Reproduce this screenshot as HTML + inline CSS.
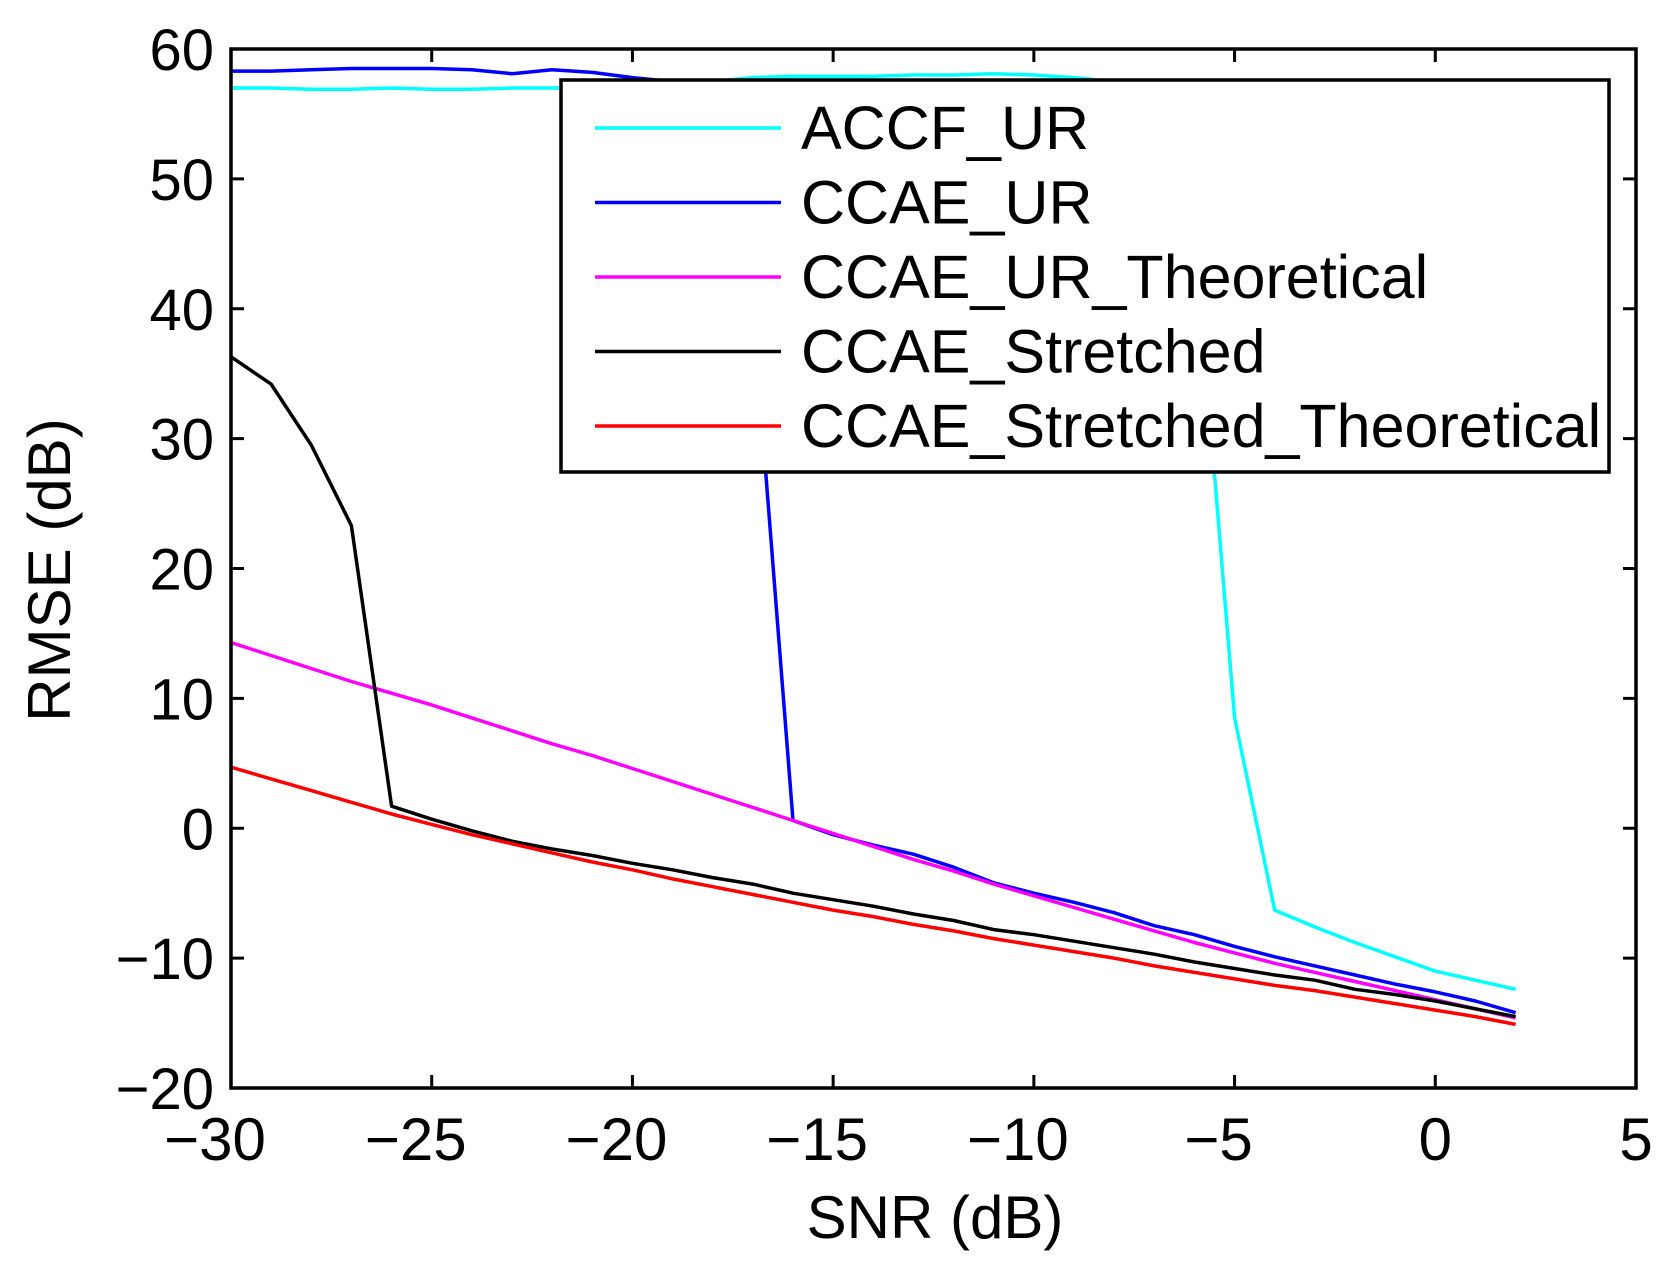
<!DOCTYPE html>
<html><head><meta charset="utf-8"><style>
html,body{margin:0;padding:0;background:#fff;}
svg{display:block;font-family:"Liberation Sans",Arial,sans-serif;}
</style></head><body>
<svg id="chart" width="1666" height="1263" viewBox="0 0 1666 1263" xmlns="http://www.w3.org/2000/svg">
<g id="series"></g>
<g id="axes"></g>
<g id="legend"></g>
</svg>
<script>
const snr = [-30,-29,-28,-27,-26,-25,-24,-23,-22,-21,-20,-19,-18,-17,-16,-15,-14,-13,-12,-11,-10,-9,-8,-7,-6,-5,-4,-3,-2,-1,0,1,2];
const accfUR = [57,57,56.9,56.9,57,56.9,56.9,57,57,57,57,57.3,57.5,57.8,57.9,57.9,57.9,58,58,58.1,58,57.8,57.5,57,46,8.5,-6.3,-7.6,-8.8,-9.9,-11,-11.7,-12.4];
const ccaeUR = [58.3,58.3,58.4,58.5,58.5,58.5,58.4,58.1,58.4,58.2,57.8,57.5,57.3,40,0.6,-0.5,-1.3,-2.0,-3.0,-4.2,-5.0,-5.7,-6.5,-7.5,-8.2,-9.1,-9.9,-10.6,-11.3,-12.0,-12.6,-13.3,-14.2];
const ccaeURTheo = [14.3,13.3,12.3,11.3,10.4,9.5,8.5,7.5,6.5,5.6,4.6,3.6,2.6,1.6,0.6,-0.4,-1.4,-2.4,-3.3,-4.3,-5.2,-6.1,-7.0,-7.9,-8.8,-9.6,-10.4,-11.1,-11.8,-12.5,-13.2,-13.9,-14.6];
const ccaeStr = [36.3,34.2,29.5,23.3,1.7,0.7,-0.2,-1.0,-1.6,-2.1,-2.7,-3.2,-3.8,-4.3,-5.0,-5.5,-6.0,-6.6,-7.1,-7.8,-8.2,-8.7,-9.2,-9.7,-10.3,-10.8,-11.3,-11.7,-12.4,-12.8,-13.3,-13.9,-14.5];
const ccaeStrTheo = [4.7,3.8,2.9,2.0,1.1,0.3,-0.5,-1.2,-1.9,-2.6,-3.2,-3.9,-4.5,-5.1,-5.7,-6.3,-6.8,-7.4,-7.9,-8.5,-9.0,-9.5,-10.0,-10.6,-11.1,-11.6,-12.1,-12.5,-13.0,-13.5,-14.0,-14.5,-15.1];
const xTicks = [-30,-25,-20,-15,-10,-5,0,5];
const yTicks = [-20,-10,0,10,20,30,40,50,60];
const seriesNames = ["ACCF_UR","CCAE_UR","CCAE_UR_Theoretical","CCAE_Stretched","CCAE_Stretched_Theoretical"];
const seriesColors = ["#00ffff","#0000ff","#ff00ff","#000000","#ff0000"];
const seriesData = [accfUR, ccaeUR, ccaeURTheo, ccaeStr, ccaeStrTheo];

const L=231,R=1636,T=49,B=1088,xMin=-30,xMax=5,yMin=-20,yMax=60;
const sx=v=>L+(v-xMin)/(xMax-xMin)*(R-L);
const sy=v=>B-(v-yMin)/(yMax-yMin)*(B-T);
const NS="http://www.w3.org/2000/svg";
function mk(tag,attrs,parent){const e=document.createElementNS(NS,tag);for(const k in attrs)e.setAttribute(k,attrs[k]);parent.appendChild(e);return e;}
const gS=document.getElementById('series'),gA=document.getElementById('axes'),gL=document.getElementById('legend');

seriesData.forEach((d,i)=>{
  const p=mk('polyline',{points:d.map((v,j)=>sx(snr[j]).toFixed(1)+','+sy(v).toFixed(1)).join(' '),fill:'none',stroke:seriesColors[i],'stroke-width':3.5,'stroke-linejoin':'round'},gS);
  
  
});

const box=mk('rect',{x:L,y:T,width:R-L,height:B-T,fill:'none',stroke:'#000','stroke-width':3.5},gA);


xTicks.forEach(t=>{
  const x=sx(t);
  mk('line',{x1:x,y1:B,x2:x,y2:B-13,stroke:'#000','stroke-width':3},gA);
  mk('line',{x1:x,y1:T,x2:x,y2:T+13,stroke:'#000','stroke-width':3},gA);
  const tx=mk('text',{x:x-(t<0?16:0),y:1160,'text-anchor':'middle','font-size':60},gA);
  tx.textContent=(t<0?'\u2212'+(-t):String(t));
  
  
});
yTicks.forEach(t=>{
  const y=sy(t);
  mk('line',{x1:L,y1:y,x2:L+13,y2:y,stroke:'#000','stroke-width':3},gA);
  mk('line',{x1:R,y1:y,x2:R-13,y2:y,stroke:'#000','stroke-width':3},gA);
  const tx=mk('text',{x:214,y:y+21,'text-anchor':'end','font-size':58},gA);
  tx.textContent=(t<0?'\u2212'+(-t):String(t));
  
  
});
const xt=mk('text',{x:935,y:1238,'text-anchor':'middle','font-size':60},gA);
xt.textContent='SNR (dB)';


const yt=mk('text',{x:0,y:0,'text-anchor':'middle','font-size':60,transform:'translate(70,570) rotate(-90)'},gA);
yt.textContent='RMSE (dB)';



const lb=mk('rect',{x:561,y:80,width:1048,height:392,fill:'#fff',stroke:'#000','stroke-width':3.5},gL);


seriesNames.forEach((n,i)=>{
  const y=128+i*74.5;
  const ln=mk('line',{x1:595,y1:y,x2:781,y2:y,stroke:seriesColors[i],'stroke-width':3.5},gL);
  
  
  const tx=mk('text',{x:801,y:y+21,'font-size':61},gL);
  tx.textContent=n;
  
  
});
</script>
</body></html>
